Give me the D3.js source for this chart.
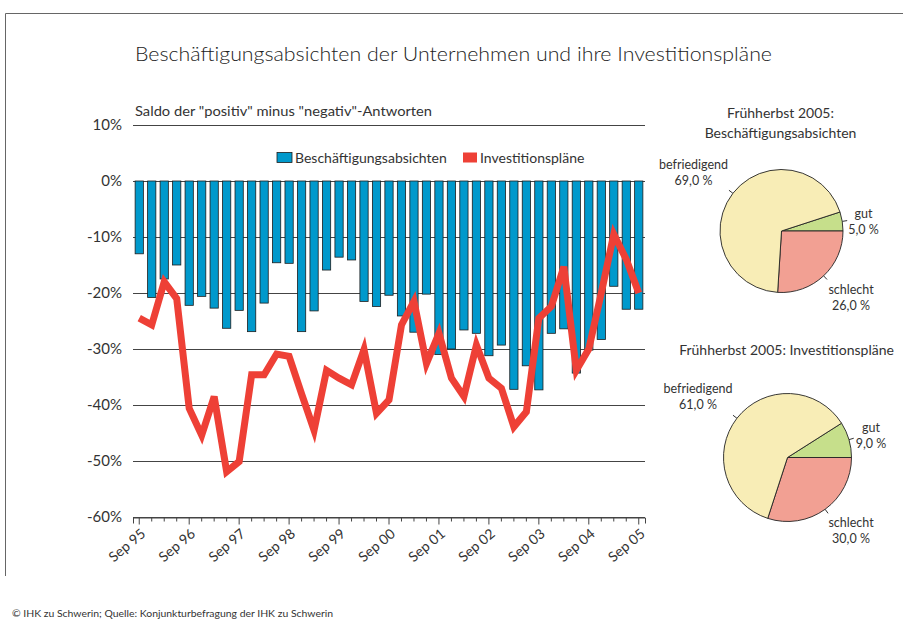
<!DOCTYPE html>
<html>
<head>
<meta charset="utf-8">
<script src="https://cdnjs.cloudflare.com/ajax/libs/d3/7.8.5/d3.min.js"></script>
<style>
  body { margin: 0; background: #fff; }
  svg { display: block; font-family: Lato, "Open Sans", sans-serif; }
</style>
</head>
<body>
<div id="chart"></div>
<script>
// quarterly survey dates, Sep 95 .. Sep 05
const quarters = [
  "Sep 95","Dez 95","Mär 96","Jun 96","Sep 96","Dez 96","Mär 97","Jun 97","Sep 97","Dez 97",
  "Mär 98","Jun 98","Sep 98","Dez 98","Mär 99","Jun 99","Sep 99","Dez 99","Mär 00","Jun 00",
  "Sep 00","Dez 00","Mär 01","Jun 01","Sep 01","Dez 01","Mär 02","Jun 02","Sep 02","Dez 02",
  "Mär 03","Jun 03","Sep 03","Dez 03","Mär 04","Jun 04","Sep 04","Dez 04","Mär 05","Jun 05",
  "Sep 05"
];

// Saldo in %
const beschaeftigung = [
  -13.0, -20.8, -17.5, -15.0, -22.2, -20.6, -22.7, -26.3, -23.1, -26.9,
  -21.8, -14.6, -14.7, -26.9, -23.2, -15.9, -13.6, -14.1, -21.5, -22.4,
  -20.4, -24.1, -27.0, -20.2, -31.0, -30.0, -26.6, -27.2, -31.2, -29.3,
  -37.2, -33.0, -37.3, -27.2, -26.4, -34.3, -30.2, -28.3, -18.8, -22.9,
  -22.9
];

const investitionen = [
  -24.5, -25.7, -18.0, -21.0, -40.6, -45.4, -38.5, -51.9, -50.1, -34.6,
  -34.6, -30.9, -31.3, -38.0, -44.5, -33.8, -35.2, -36.4, -30.1, -41.5,
  -39.1, -25.7, -21.5, -32.6, -27.2, -35.2, -38.5, -29.3, -35.2, -37.0,
  -43.9, -41.2, -24.5, -22.4, -15.3, -33.8, -30.0, -20.0, -9.5, -14.0,
  -20.0
];

const yTicks = [10, 0, -10, -20, -30, -40, -50, -60];

// Frühherbst 2005 pies
const pieSlices = ["gut", "schlecht", "befriedigend"];
const pieBeschaeftigung = [5.0, 26.0, 69.0];
const pieInvestitionen = [9.0, 30.0, 61.0];

const pieColors = { gut: "#c6df8b", schlecht: "#f2a093", befriedigend: "#f8edb6" };
const blue = "#0099cc", red = "#ee4036";

const width = 903, height = 619;
const svg = d3.select("#chart").append("svg")
    .attr("width", width)
    .attr("height", height);

// frame
svg.append("path")
    .attr("d", "M5.5,576V13.5H903")
    .attr("fill", "none")
    .attr("stroke", "#666");

svg.append("text")
    .attr("x", 135).attr("y", 61)
    .attr("fill", "#222")
    .attr("textLength", 637).attr("lengthAdjust", "spacingAndGlyphs")
    .style("font-size", "20px")
    .style("font-weight", 300)
    .text("Beschäftigungsabsichten der Unternehmen und ihre Investitionspläne");

svg.append("text")
    .attr("x", 135).attr("y", 116)
    .attr("fill", "#333")
    .attr("textLength", 297).attr("lengthAdjust", "spacingAndGlyphs")
    .style("font-size", "14px")
    .text("Saldo der \"positiv\" minus \"negativ\"-Antworten");

// ---- bar + line chart
const x = d3.scaleBand()
    .domain(quarters)
    .range([133, 645])
    .padding(0);

const y = d3.scaleLinear()
    .domain([-60, 10])
    .range([517, 125]);

const bw = x.bandwidth() * 0.66;
const cx = d => x(d) + x.bandwidth() / 2;

const g = svg.append("g");

g.selectAll(".grid")
    .data(yTicks)
    .enter().append("line")
    .attr("class", "grid")
    .attr("x1", 133).attr("x2", 645)
    .attr("y1", d => Math.round(y(d)) + 0.5)
    .attr("y2", d => Math.round(y(d)) + 0.5)
    .attr("stroke", "#444");

g.selectAll(".ylab")
    .data(yTicks)
    .enter().append("text")
    .attr("class", "ylab")
    .attr("x", 122)
    .attr("y", d => y(d))
    .attr("dy", "0.35em")
    .attr("text-anchor", "end")
    .attr("fill", "#333")
    .style("font-size", "15px")
    .text(d => d + "%");

g.selectAll(".bar")
    .data(beschaeftigung)
    .enter().append("rect")
    .attr("class", "bar")
    .attr("x", (d, i) => cx(quarters[i]) - bw / 2)
    .attr("y", y(0))
    .attr("width", bw)
    .attr("height", d => y(d) - y(0))
    .attr("fill", blue)
    .attr("stroke", "#1d1d1d")
    .attr("stroke-width", 0.8);

const xAxis = g.append("g")
    .attr("transform", `translate(0,${Math.round(y(-60)) + 0.5})`)
    .call(d3.axisBottom(x)
        .tickSizeInner(4)
        .tickSizeOuter(6)
        .tickFormat(d => d.startsWith("Sep") ? d : ""));

xAxis.select(".domain").attr("stroke", "#444");
xAxis.selectAll(".tick line")
    .attr("stroke", "#444")
    .attr("y2", d => d.startsWith("Sep") ? 7 : 4);
xAxis.selectAll(".tick text")
    .attr("x", 0)
    .attr("y", 0)
    .attr("dy", "0.35em")
    .attr("transform", "translate(4,14) rotate(-40)")
    .style("text-anchor", "end")
    .style("font-size", "14px")
    .style("font-family", "Lato, sans-serif")
    .attr("fill", "#333");

const line = d3.line()
    .x((d, i) => cx(quarters[i]))
    .y(d => y(d));

g.append("path")
    .datum(investitionen)
    .attr("fill", "none")
    .attr("stroke", red)
    .attr("stroke-width", 7)
    .attr("stroke-linejoin", "miter")
    .attr("d", line);

// legend
const legend = svg.append("g").style("font-size", "14px").attr("fill", "#333");
legend.append("rect").attr("x", 277).attr("y", 152.5).attr("width", 15).attr("height", 10)
    .attr("fill", blue).attr("stroke", "#1d1d1d").attr("stroke-width", 0.8);
legend.append("text").attr("x", 295).attr("y", 163).text("Beschäftigungsabsichten");
legend.append("rect").attr("x", 463).attr("y", 152.5).attr("width", 14).attr("height", 10)
    .attr("fill", red);
legend.append("text").attr("x", 480).attr("y", 163).text("Investitionspläne");

// ---- pies
const pie = d3.pie().sort(null);

function drawPie(values, cxp, cyp, r, titleLines, titleY, labelPos) {
    const gut = values[0] / 100 * 2 * Math.PI;
    const arcs = pie.startAngle(Math.PI / 2 - gut).endAngle(Math.PI / 2 - gut + 2 * Math.PI)(values);
    const arc = d3.arc().innerRadius(0).outerRadius(r);
    const pg = svg.append("g").attr("transform", `translate(${cxp},${cyp})`);

    pg.selectAll("path")
        .data(arcs)
        .enter().append("path")
        .attr("d", arc)
        .attr("fill", (d, i) => pieColors[pieSlices[i]])
        .attr("stroke", "#222")
        .attr("stroke-width", 0.9);

    pg.selectAll(".tick")
        .data(arcs)
        .enter().append("line")
        .attr("class", "tick")
        .attr("x1", d => r * Math.sin((d.startAngle + d.endAngle) / 2))
        .attr("y1", d => -r * Math.cos((d.startAngle + d.endAngle) / 2))
        .attr("x2", d => (r + 5) * Math.sin((d.startAngle + d.endAngle) / 2))
        .attr("y2", d => -(r + 5) * Math.cos((d.startAngle + d.endAngle) / 2))
        .attr("stroke", "#333");

    arcs.forEach((d, i) => {
        const name = pieSlices[i];
        const p = labelPos[name];
        const t = pg.append("text")
            .attr("text-anchor", "middle")
            .attr("fill", "#333")
            .style("font-size", "12.5px");
        t.append("tspan").attr("x", p[0]).attr("y", p[1]).text(name);
        t.append("tspan").attr("x", p[0]).attr("y", p[1] + 16)
            .text(d.data.toFixed(1).replace(".", ",") + " %");
    });

    titleLines.forEach((s, i) => {
        svg.append("text")
            .attr("x", cxp - 1).attr("y", titleY + i * 20)
            .attr("text-anchor", "middle")
            .attr("fill", "#333")
            .style("font-size", "14px")
            .text(s);
    });
}

drawPie(pieBeschaeftigung, 781.5, 231, 61.5,
    ["Frühherbst 2005:", "Beschäftigungsabsichten"], 118,
    { befriedigend: [-88, -62], gut: [82, -13], schlecht: [69.5, 63] });

drawPie(pieInvestitionen, 787.5, 457.5, 64,
    ["Frühherbst 2005: Investitionspläne"], 355,
    { befriedigend: [-89.5, -64.5], gut: [83.5, -26], schlecht: [63.5, 69] });

svg.append("text")
    .attr("x", 12).attr("y", 617)
    .attr("fill", "#333")
    .attr("textLength", 321).attr("lengthAdjust", "spacingAndGlyphs")
    .style("font-size", "10px")
    .text("© IHK zu Schwerin; Quelle: Konjunkturbefragung der IHK zu Schwerin");
</script>
</body>
</html>
